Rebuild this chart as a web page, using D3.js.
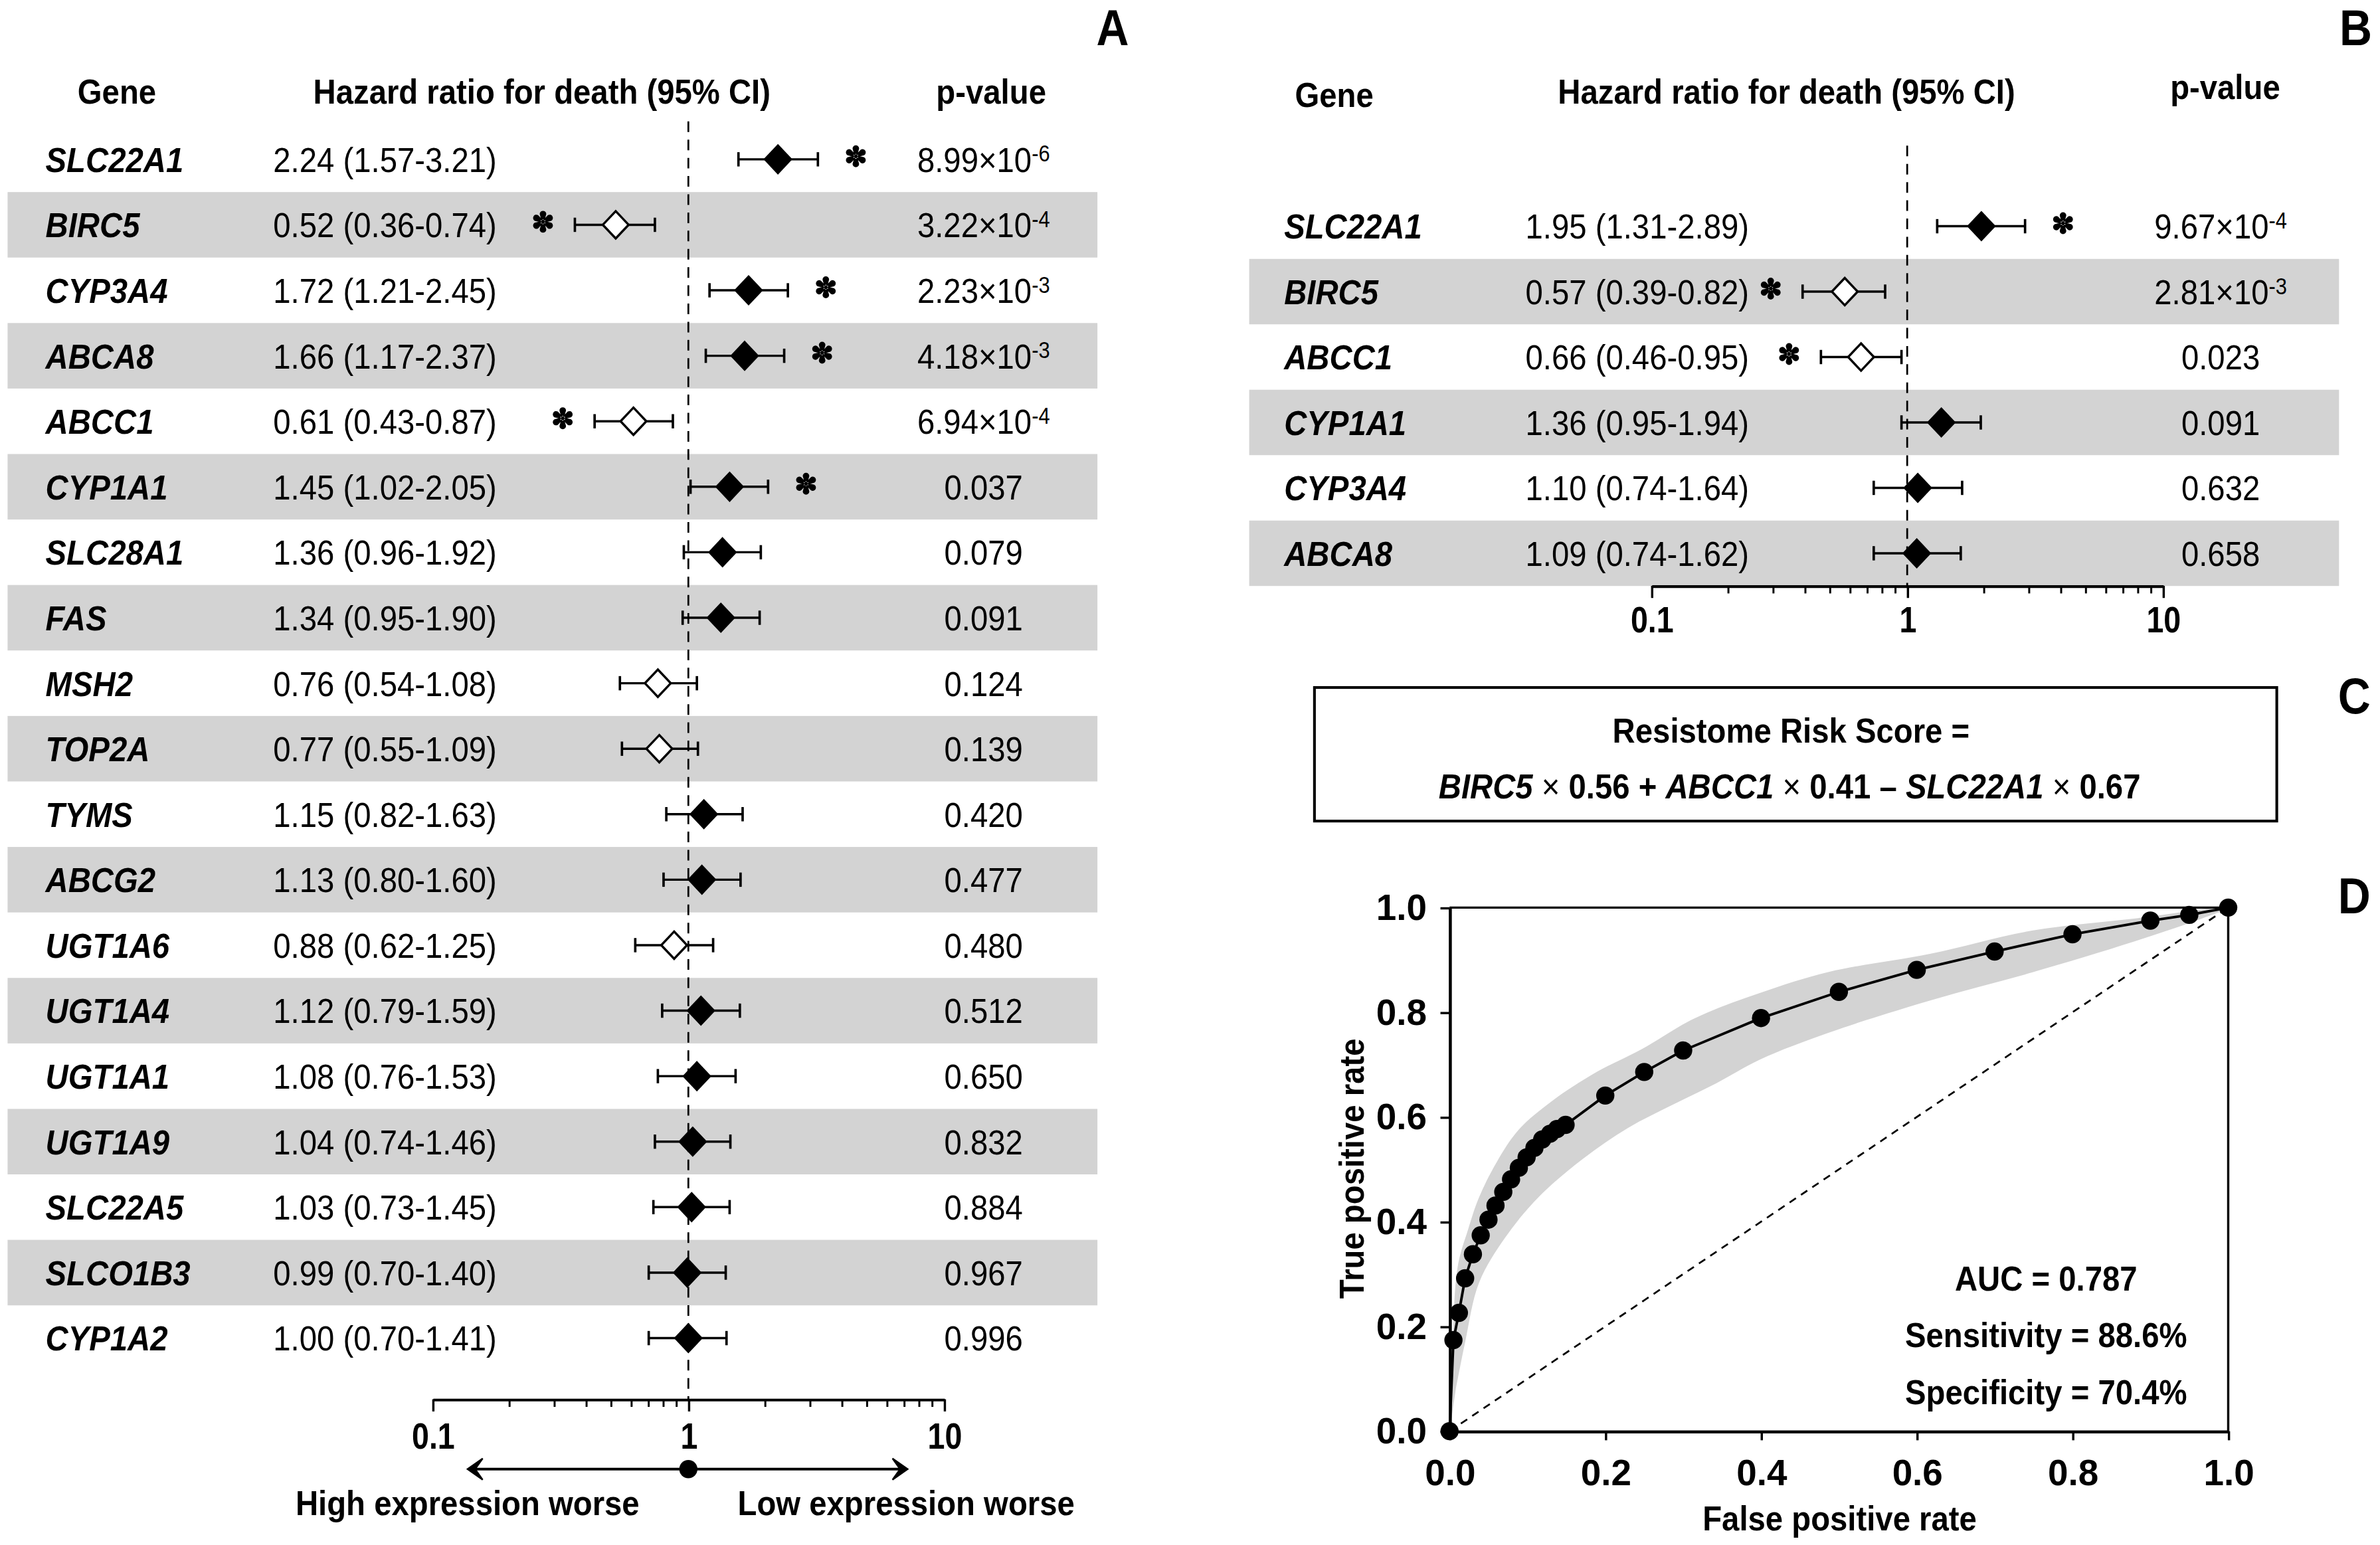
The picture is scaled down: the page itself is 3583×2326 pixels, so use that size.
<!DOCTYPE html>
<html>
<head>
<meta charset="utf-8">
<script src="https://cdn.jsdelivr.net/npm/d3@7"></script>
<style>
  body { margin: 0; background: #fff; }
  svg { display: block; }
  text { font-family: "Liberation Sans", Arial, Helvetica, sans-serif; fill: #000; }
</style>
</head>
<body>
<svg id="fig"></svg>
<script>
// ---- panel A: univariate hazard ratios ----
const genesA = ["SLC22A1", "BIRC5", "CYP3A4", "ABCA8", "ABCC1", "CYP1A1", "SLC28A1", "FAS", "MSH2", "TOP2A",
                "TYMS", "ABCG2", "UGT1A6", "UGT1A4", "UGT1A1", "UGT1A9", "SLC22A5", "SLCO1B3", "CYP1A2"];
const hrA = [2.24, 0.52, 1.72, 1.66, 0.61, 1.45, 1.36, 1.34, 0.76, 0.77, 1.15, 1.13, 0.88, 1.12, 1.08, 1.04, 1.03, 0.99, 1.00];
const loA = [1.57, 0.36, 1.21, 1.17, 0.43, 1.02, 0.96, 0.95, 0.54, 0.55, 0.82, 0.80, 0.62, 0.79, 0.76, 0.74, 0.73, 0.70, 0.70];
const hiA = [3.21, 0.74, 2.45, 2.37, 0.87, 2.05, 1.92, 1.90, 1.08, 1.09, 1.63, 1.60, 1.25, 1.59, 1.53, 1.46, 1.45, 1.40, 1.41];
const pA = ["8.99e-6", "3.22e-4", "2.23e-3", "4.18e-3", "6.94e-4", "0.037", "0.079", "0.091", "0.124", "0.139",
            "0.420", "0.477", "0.480", "0.512", "0.650", "0.832", "0.884", "0.967", "0.996"];

// ---- panel B: multivariate hazard ratios ----
const genesB = ["SLC22A1", "BIRC5", "ABCC1", "CYP1A1", "CYP3A4", "ABCA8"];
const hrB = [1.95, 0.57, 0.66, 1.36, 1.10, 1.09];
const loB = [1.31, 0.39, 0.46, 0.95, 0.74, 0.74];
const hiB = [2.89, 0.82, 0.95, 1.94, 1.64, 1.62];
const pB = ["9.67e-4", "2.81e-3", "0.023", "0.091", "0.632", "0.658"];

const hrTicks = [0.1, 1, 10];
const hrMinorTicks = [0.2, 0.3, 0.4, 0.5, 0.6, 0.7, 0.8, 0.9, 2, 3, 4, 5, 6, 7, 8, 9];

// ---- panel D: ROC curve ----
const rocFpr = [0, 0.005, 0.012, 0.020, 0.030, 0.040, 0.050, 0.059, 0.069, 0.079, 0.089, 0.099, 0.109, 0.119,
                0.129, 0.138, 0.149, 0.20, 0.25, 0.30, 0.40, 0.50, 0.60, 0.70, 0.80, 0.90, 0.95, 1.0];
const rocTpr = [0, 0.174, 0.226, 0.292, 0.338, 0.374, 0.404, 0.431, 0.457, 0.481, 0.503, 0.523, 0.541, 0.557,
                0.568, 0.577, 0.585, 0.641, 0.686, 0.727, 0.789, 0.839, 0.881, 0.916, 0.949, 0.975, 0.986, 1.0];
const bandUpper = [[0, 0], [0.003, 0.10], [0.010, 0.31], [0.024, 0.386], [0.038, 0.447], [0.061, 0.515],
                   [0.089, 0.576], [0.132, 0.631], [0.189, 0.686], [0.246, 0.729], [0.314, 0.788], [0.399, 0.837],
                   [0.487, 0.877], [0.618, 0.912], [0.748, 0.956], [0.879, 0.979], [1, 1]];
const bandLower = [[0, 0], [0.008, 0.08], [0.020, 0.17], [0.038, 0.284], [0.072, 0.371], [0.115, 0.448],
                   [0.172, 0.521], [0.229, 0.579], [0.286, 0.623], [0.342, 0.664], [0.399, 0.710], [0.487, 0.761],
                   [0.618, 0.823], [0.748, 0.876], [0.879, 0.935], [0.966, 0.979], [1, 1]];
const rateTicks = [0, 0.2, 0.4, 0.6, 0.8, 1.0];
const rocStats = ["AUC = 0.787", "Sensitivity = 88.6%", "Specificity = 70.4%"];

const W = 1568, H = 1018;
const svg = d3.select("#fig")
    .attr("width", 3583).attr("height", 2326)
    .attr("viewBox", `0 0 ${W} ${H}`)
    .attr("preserveAspectRatio", "none");

// text helper; y is the vertical middle of the capitals, sx squeezes glyphs a bit like the original
function label(g, x, y, str, o = {}) {
    let t = g.append("text")
        .attr("transform", `translate(${x},${y})${o.rotate ? ` rotate(${o.rotate})` : ""} scale(${o.sx ?? 0.9},1)`)
        .attr("dy", "0.36em")
        .attr("text-anchor", o.anchor || "start")
        .style("font-size", (o.size || 23) + "px")
        .style("font-weight", o.weight || "normal")
        .style("font-style", o.style || "normal");
    if (str !== null) t.text(str);
    return t;
}

function pValue(g, x, y, s) {
    let t = label(g, x, y, null, {anchor: "middle"});
    if (s.includes("e")) {
        let [m, e] = s.split("e");
        t.append("tspan").text(m + "\u00d710");
        t.append("tspan").attr("dy", "-0.45em").style("font-size", "15px").text(e);
    } else {
        t.text(s);
    }
}

// six-petal asterisk used as significance mark
const petalStar = {
    draw(ctx, size) {
        let r = Math.sqrt(size), w0 = 0.1 * r, cR = 0.3 * r, cd = r - cR;
        for (let k = 0; k < 6; k++) {
            let a = k * Math.PI / 3 - Math.PI / 2;
            let ux = Math.cos(a), uy = Math.sin(a), px = -uy, py = ux;
            ctx.moveTo(px * w0, py * w0);
            ctx.lineTo(ux * cd + px * cR, uy * cd + py * cR);
            ctx.arc(ux * cd, uy * cd, cR, a + Math.PI / 2, a - Math.PI / 2, true);
            ctx.lineTo(-px * w0, -py * w0);
            ctx.closePath();
        }
        ctx.moveTo(0.22 * r, 0);
        ctx.arc(0, 0, 0.22 * r, 0, 2 * Math.PI);
    }
};
const starPath = d3.symbol().type(petalStar).size(52)();

const fmt2 = d3.format(".2f");

function forest(g, c) {
    let x = d3.scaleLog().domain([0.1, 10]).range(c.range);
    let y = d3.scaleBand().domain(c.genes).range([c.yTop, c.yTop + c.genes.length * c.rowH]);

    // alternate grey bands
    c.genes.forEach((d, i) => {
        if (i % 2 === 1) {
            g.append("rect")
                .attr("x", c.shade[0]).attr("width", c.shade[1] - c.shade[0])
                .attr("y", y(d)).attr("height", y.bandwidth())
                .style("fill", "#d3d3d3");
        }
    });

    // reference line at HR = 1
    g.append("line")
        .attr("x1", x(1)).attr("x2", x(1))
        .attr("y1", c.lineTop).attr("y2", c.axisY)
        .style("stroke", "#000").style("stroke-width", 1.2)
        .style("stroke-dasharray", "7,5");

    c.genes.forEach((d, i) => {
        let cy = y(d) + y.bandwidth() / 2;
        label(g, c.geneX, cy, d, {weight: "bold", style: "italic"});
        label(g, c.hrX, cy, `${fmt2(c.hr[i])} (${fmt2(c.lo[i])}-${fmt2(c.hi[i])})`);
        pValue(g, c.pX, cy, c.p[i]);

        // CI whisker
        g.append("line")
            .attr("x1", x(c.lo[i])).attr("x2", x(c.hi[i]))
            .attr("y1", cy).attr("y2", cy)
            .style("stroke", "#000").style("stroke-width", 1.5);
        [c.lo[i], c.hi[i]].forEach(v => {
            g.append("line")
                .attr("x1", x(v)).attr("x2", x(v))
                .attr("y1", cy - 4.7).attr("y2", cy + 4.7)
                .style("stroke", "#000").style("stroke-width", 1.6);
        });

        let open = c.hr[i] < 0.95;
        g.append("path")
            .attr("d", "M0,-9L8.5,0L0,9L-8.5,0Z")
            .attr("transform", `translate(${x(c.hr[i])},${cy})`)
            .style("fill", open ? "#fff" : "#000")
            .style("stroke", "#000").style("stroke-width", 1.5);

        // significance star
        if (+c.p[i] < 0.05) {
            let sx = open ? x(c.lo[i]) - 21 : x(c.hi[i]) + 25;
            g.append("path")
                .attr("d", starPath)
                .attr("transform", `translate(${sx},${cy - 2})`)
                .style("fill", "#000");
        }
    });

    // log axis
    let axis = d3.axisBottom(x)
        .tickValues(hrTicks)
        .tickFormat(d3.format("~g"))
        .tickSize(8).tickSizeOuter(0);
    let ax = g.append("g").attr("transform", `translate(0,${c.axisY})`).call(axis);
    ax.select(".domain").style("stroke-width", 1.8);
    ax.selectAll(".tick line").style("stroke-width", 1.5);
    ax.selectAll(".tick text")
        .attr("y", c.labelOff).attr("dy", "0.36em")
        .attr("transform", "scale(0.85,1)")
        .style("font-family", "'Liberation Sans', Arial, sans-serif")
        .style("font-size", "24px").style("font-weight", "bold");
    hrMinorTicks.forEach(v => {
        g.append("line")
            .attr("x1", x(v)).attr("x2", x(v))
            .attr("y1", c.axisY).attr("y2", c.axisY + 5)
            .style("stroke", "#000").style("stroke-width", 1.3);
    });
    return x;
}

// ---------------- Panel A ----------------
let gA = svg.append("g");
label(gA, 733, 18, "A", {size: 33, weight: "bold", anchor: "middle"});
label(gA, 77, 60, "Gene", {weight: "bold", anchor: "middle"});
label(gA, 357, 60, "Hazard ratio for death (95% CI)", {weight: "bold", anchor: "middle"});
label(gA, 653, 60, "p-value", {weight: "bold", anchor: "middle"});

let xA = forest(gA, {
    genes: genesA, hr: hrA, lo: loA, hi: hiA, p: pA,
    range: [285, 622], yTop: 83.4, rowH: 43.15, shade: [5, 723],
    geneX: 30, hrX: 180, pX: 648, lineTop: 80, axisY: 922, labelOff: 24
});

// direction arrow under the axis
let arrowY = 968;
gA.append("line")
    .attr("x1", 310).attr("x2", 596)
    .attr("y1", arrowY).attr("y2", arrowY)
    .style("stroke", "#000").style("stroke-width", 1.8);
gA.append("path")
    .attr("d", `M308,${arrowY}L318,${arrowY - 7}L313,${arrowY}L318,${arrowY + 7}Z`)
    .style("fill", "#000").style("stroke", "#000").style("stroke-width", 1);
gA.append("path")
    .attr("d", `M598,${arrowY}L588,${arrowY - 7}L593,${arrowY}L588,${arrowY + 7}Z`)
    .style("fill", "#000").style("stroke", "#000").style("stroke-width", 1);
gA.append("circle").attr("cx", xA(1)).attr("cy", arrowY).attr("r", 6).style("fill", "#000");
label(gA, 308, 990, "High expression worse", {weight: "bold", anchor: "middle"});
label(gA, 597, 990, "Low expression worse", {weight: "bold", anchor: "middle"});

// ---------------- Panel B ----------------
let gB = svg.append("g");
label(gB, 1552, 18, "B", {size: 33, weight: "bold", anchor: "middle"});
label(gB, 879, 62, "Gene", {weight: "bold", anchor: "middle"});
label(gB, 1177, 60, "Hazard ratio for death (95% CI)", {weight: "bold", anchor: "middle"});
label(gB, 1466, 57, "p-value", {weight: "bold", anchor: "middle"});

forest(gB, {
    genes: genesB, hr: hrB, lo: loB, hi: hiB, p: pB,
    range: [1088, 1425], yTop: 127.5, rowH: 43.1, shade: [823, 1541],
    geneX: 846, hrX: 1005, pX: 1463, lineTop: 96, axisY: 386, labelOff: 22
});

// ---------------- Panel C ----------------
let gC = svg.append("g");
label(gC, 1551, 458, "C", {size: 33, weight: "bold", anchor: "middle"});
gC.append("rect")
    .attr("x", 866).attr("y", 453).attr("width", 634).attr("height", 88)
    .style("fill", "none").style("stroke", "#000").style("stroke-width", 1.8);
label(gC, 1180, 481, "Resistome Risk Score =", {weight: "bold", anchor: "middle"});
let formula = label(gC, 1179, 518, null, {anchor: "middle"});
[["BIRC5", "bold", "italic"], [" \u00d7 ", "normal", "normal"], ["0.56 + ", "bold", "normal"],
 ["ABCC1", "bold", "italic"], [" \u00d7 ", "normal", "normal"], ["0.41 \u2013 ", "bold", "normal"],
 ["SLC22A1", "bold", "italic"], [" \u00d7 ", "normal", "normal"], ["0.67", "bold", "normal"]]
    .forEach(([t, w, s]) => {
        formula.append("tspan").style("font-weight", w).style("font-style", s).text(t);
    });

// ---------------- Panel D ----------------
let gD = svg.append("g");
label(gD, 1551, 590, "D", {size: 33, weight: "bold", anchor: "middle"});

let xD = d3.scaleLinear().domain([0, 1]).range([955, 1468]);
let yD = d3.scaleLinear().domain([0, 1]).range([943, 598]);

let bandLine = d3.line().x(d => xD(d[0])).y(d => yD(d[1])).curve(d3.curveCatmullRom.alpha(0.5));
gD.append("path")
    .attr("d", bandLine(bandUpper.concat(bandLower.slice(1, -1).reverse())) + "Z")
    .style("fill", "#d3d3d3").style("stroke", "none");

// chance line
gD.append("line")
    .attr("x1", xD(0)).attr("y1", yD(0)).attr("x2", xD(1)).attr("y2", yD(1))
    .style("stroke", "#000").style("stroke-width", 1.2).style("stroke-dasharray", "5,4");

// frame top / right
gD.append("path")
    .attr("d", `M${xD(0)},${yD(1)}H${xD(1)}V${yD(0)}`)
    .style("fill", "none").style("stroke", "#000").style("stroke-width", 1.5);

let yAx = gD.append("g").attr("transform", `translate(${xD(0)},0)`)
    .call(d3.axisLeft(yD).tickValues(rateTicks).tickFormat(d3.format(".1f")).tickSize(6).tickSizeOuter(0).tickPadding(9));
let xAx = gD.append("g").attr("transform", `translate(0,${yD(0)})`)
    .call(d3.axisBottom(xD).tickValues(rateTicks).tickFormat(d3.format(".1f")).tickSize(6).tickSizeOuter(0));
[yAx, xAx].forEach(a => {
    a.select(".domain").style("stroke-width", 2);
    a.selectAll(".tick line").style("stroke-width", 1.5);
    a.selectAll(".tick text")
        .style("font-family", "'Liberation Sans', Arial, sans-serif")
        .style("font-size", "24px").style("font-weight", "bold");
});
xAx.selectAll(".tick text").attr("y", 27).attr("dy", "0.36em");

let rocPts = rocFpr.map((f, i) => [f, rocTpr[i]]);
gD.append("path")
    .attr("d", d3.line().x(d => xD(d[0])).y(d => yD(d[1]))(rocPts))
    .style("fill", "none").style("stroke", "#000").style("stroke-width", 1.7);
gD.selectAll("circle.roc").data(rocPts).join("circle")
    .attr("class", "roc")
    .attr("cx", d => xD(d[0])).attr("cy", d => yD(d[1]))
    .attr("r", 6).style("fill", "#000");

label(gD, 1212, 1000, "False positive rate", {weight: "bold", anchor: "middle"});
label(gD, 890, 770, "True positive rate", {weight: "bold", anchor: "middle", rotate: -90});
rocStats.forEach((s, i) => {
    label(gD, 1348, 842 + i * 37.5, s, {weight: "bold", anchor: "middle"});
});
</script>
</body>
</html>
